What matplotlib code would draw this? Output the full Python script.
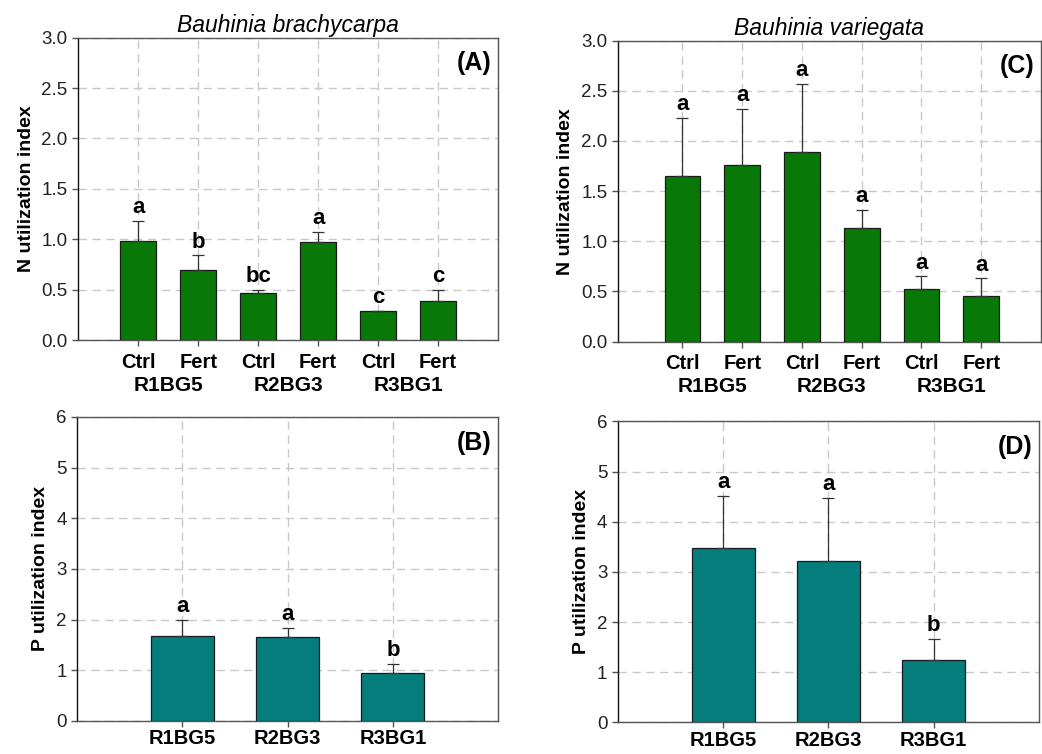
import numpy as np
import matplotlib.pyplot as plt
from matplotlib.transforms import blended_transform_factory

plt.rcParams['font.family'] = ['Liberation Sans', 'DejaVu Sans']

# treatment / site labels
treat = ['Ctrl', 'Fert', 'Ctrl', 'Fert', 'Ctrl', 'Fert']
sites = ['R1BG5', 'R2BG3', 'R3BG1']

# N utilization index (mean and upper SE), B. brachycarpa
n_brachy = [0.98, 0.70, 0.47, 0.97, 0.29, 0.385]
n_brachy_se = [0.20, 0.14, 0.03, 0.10, 0.0, 0.115]
n_brachy_sig = ['a', 'b', 'bc', 'a', 'c', 'c']

# N utilization index, B. variegata
n_varie = [1.65, 1.76, 1.89, 1.13, 0.52, 0.45]
n_varie_se = [0.58, 0.56, 0.68, 0.18, 0.13, 0.18]
n_varie_sig = ['a', 'a', 'a', 'a', 'a', 'a']

# P utilization index
p_brachy = [1.68, 1.65, 0.95]
p_brachy_se = [0.31, 0.19, 0.17]
p_brachy_sig = ['a', 'a', 'b']

p_varie = [3.48, 3.21, 1.25]
p_varie_se = [1.04, 1.27, 0.41]
p_varie_sig = ['a', 'a', 'b']

green = '#087808'
teal = '#067d7d'
spine_col = '#555555'


def draw_panel(ax, vals, se, sig, color, ymax, yticks, ytickfmt, ylabel, tag, xlim):
    x = np.arange(len(vals))
    ax.bar(x, vals, width=0.6, color=color, edgecolor='#1a1a1a', linewidth=0.9, zorder=3,
           yerr=[np.zeros(len(se)), se], capsize=4.5,
           error_kw=dict(ecolor='#333333', elinewidth=0.9, capthick=0.9, zorder=4))
    for xi, v, e, s in zip(x, vals, se, sig):
        ax.annotate(s, (xi, v + e), xytext=(0, 2), textcoords='offset points',
                    ha='center', va='bottom', fontsize=16, fontweight='bold', zorder=5)
    ax.set_xlim(*xlim)
    ax.set_ylim(0, ymax)
    ax.set_xticks(x)
    ax.set_yticks(yticks)
    ax.set_yticklabels([ytickfmt.format(t) for t in yticks], fontsize=13.5, color='#222222')
    ax.grid(True, color='#c8c8c8', linestyle=(0, (6, 4)), linewidth=1.0, zorder=0)
    for sp in ax.spines.values():
        sp.set_color(spine_col)
        sp.set_linewidth(1.0)
    ax.spines['left'].set_color('#111111')
    ax.tick_params(axis='both', direction='out', length=4, color=spine_col, width=1.0)
    ax.set_ylabel(ylabel, fontsize=14, fontweight='bold', labelpad=5)
    ax.text(0.985, 0.955, tag, transform=ax.transAxes, ha='right', va='top',
            fontsize=18, fontweight='bold')


fig = plt.figure(figsize=(10.42, 7.54), dpi=100)

axA = fig.add_axes([0.075, 0.549, 0.403, 0.401])
axC = fig.add_axes([0.593, 0.547, 0.406, 0.399])
axB = fig.add_axes([0.074, 0.044, 0.404, 0.403])
axD = fig.add_axes([0.593, 0.042, 0.404, 0.399])

n_ticks = [0.0, 0.5, 1.0, 1.5, 2.0, 2.5, 3.0]
p_ticks = [0, 1, 2, 3, 4, 5, 6]

draw_panel(axA, n_brachy, n_brachy_se, n_brachy_sig, green, 3.0, n_ticks, '{:.1f}',
           'N utilization index', '(A)', (-1, 6))
draw_panel(axC, n_varie, n_varie_se, n_varie_sig, green, 3.0, n_ticks, '{:.1f}',
           'N utilization index', '(C)', (-1.08, 6))
draw_panel(axB, p_brachy, p_brachy_se, p_brachy_sig, teal, 6, p_ticks, '{:d}',
           'P utilization index', '(B)', (-1, 3))
draw_panel(axD, p_varie, p_varie_se, p_varie_sig, teal, 6, p_ticks, '{:d}',
           'P utilization index', '(D)', (-1, 3))

# treatment labels with site groups underneath
for ax in (axA, axC):
    ax.set_xticklabels(treat, fontsize=14.5, fontweight='bold')
    ax.tick_params(axis='x', pad=5)
    trans = blended_transform_factory(ax.transData, ax.transAxes)
    for i, s in enumerate(sites):
        ax.text(2 * i + 0.5, -0.15, s, transform=trans, ha='center', va='center',
                fontsize=15, fontweight='bold')

for ax in (axB, axD):
    ax.set_xticklabels(sites, fontsize=14.5, fontweight='bold')
    ax.tick_params(axis='x', pad=2)

axA.set_title('Bauhinia brachycarpa', fontsize=16.5, fontstyle='italic', pad=4)
axC.set_title('Bauhinia variegata', fontsize=16.5, fontstyle='italic', pad=4)

fig.savefig('out.png', dpi=100)
